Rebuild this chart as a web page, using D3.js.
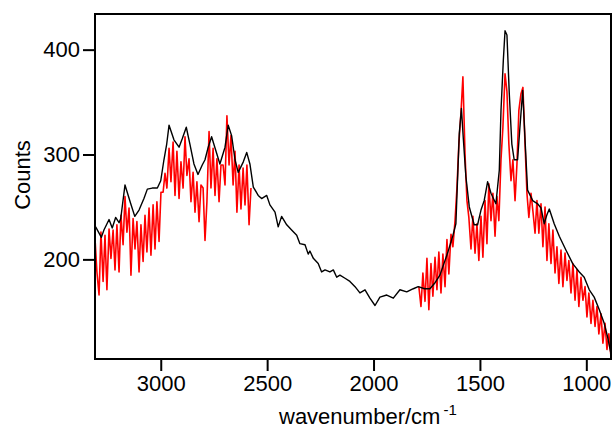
<!DOCTYPE html>
<html><head><meta charset="utf-8">
<script src="https://cdn.jsdelivr.net/npm/d3@7"></script>
<style>body{margin:0;background:#fff}text{font-family:"Liberation Sans",Arial,sans-serif}</style>
</head><body><svg id="c" width="613" height="428"></svg>
<script>
const blackWn=[3306,3279,3267,3243,3228,3212,3196,3188,3168,3141,3122,3102,3079,3063,3040,3016,3000,2985,2972,2961,2938,2914,2899,2880,2863,2844,2825,2805,2792,2777,2761,2737,2722,2698,2683,2667,2651,2636,2612,2596,2581,2565,2542,2526,2502,2487,2463,2448,2432,2408,2385,2361,2346,2322,2307,2299,2283,2260,2244,2228,2205,2189,2173,2158,2134,2111,2087,2064,2040,2017,1993,1970,1938,1907,1876,1844,1813,1790,1760,1735,1710,1688,1652,1628,1613,1597,1587,1578,1566,1550,1527,1511,1495,1480,1464,1448,1425,1409,1401,1390,1382,1373,1362,1350,1339,1323,1312,1299,1287,1276,1252,1229,1213,1198,1186,1174,1151,1127,1096,1064,1033,1010,986,963,939,916,900,884];
const blackCounts=[231,221,228,238,230,240,235,239,271,253,241,247,258,267,268,268,275,295,310,328,314,307,315,326,310,291,281,290,295,307,317,301,291,307,328,318,295,283,293,302,291,269,261,258,261,252,245,231,241,233,228,223,215,214,205,208,201,196,188,190,188,190,183,185,182,179,174,168,171,163,156,164,166,163,171,169,172,174,172,172,178,185,206,222,234,320,344,315,279,250,233,233,247,256,274,263,253,285,342,390,418,414,358,310,295,295,326,361,310,266,256,253,249,234,242,248,234,222,209,196,188,183,171,164,152,139,126,110];

const redLeftWn=[3309,3300,3290,3281,3271,3262,3253,3243,3234,3224,3215,3206,3196,3187,3177,3168,3159,3149,3140,3130,3121,3112,3102,3093,3083,3074,3065,3055,3046,3036,3027,3018,3008,2999,2989,2980,2971,2961,2952,2942,2933,2924,2914,2905,2895,2886,2877,2867,2858,2848,2839,2830,2820,2811,2801,2792,2783,2773,2764,2754,2745,2736,2726,2717,2707,2698,2689,2679,2670,2660,2651,2642,2632,2623,2613,2604,2595,2585,2576];
const redLeftCounts=[220,188,166,226,179,223,171,229,201,228,190,233,188,242,214,260,226,249,185,239,210,236,188,233,198,242,207,249,204,252,210,255,217,264,264,282,268,306,274,312,261,303,258,293,268,317,280,296,255,283,245,274,236,271,268,218,255,322,268,306,261,296,255,290,290,271,337,290,318,271,303,245,290,248,287,252,290,233,268];

const redRightWn=[1787,1777,1768,1758,1749,1740,1730,1721,1711,1702,1693,1683,1674,1664,1655,1646,1636,1627,1617,1608,1599,1589,1580,1570,1561,1552,1542,1533,1523,1514,1505,1495,1486,1476,1467,1458,1448,1439,1429,1420,1411,1401,1392,1382,1373,1364,1354,1345,1335,1326,1317,1307,1298,1288,1279,1270,1260,1251,1241,1232,1223,1213,1204,1194,1185,1176,1166,1157,1147,1138,1129,1119,1110,1100,1091,1082,1072,1063,1053,1044,1035,1025,1016,1006,997,988,978,969,959,950,941,931,922,912,903,894,884];
const redRightCounts=[174,155,187,160,201,152,196,165,202,171,207,168,205,174,219,186,224,212,237,268,310,340,374,300,256,240,210,241,206,234,199,241,202,256,215,272,237,263,222,260,237,295,326,377,360,310,275,295,256,291,342,358,364,310,263,240,263,246,225,256,225,253,212,250,199,234,196,228,187,212,177,209,174,206,180,199,168,196,161,190,155,183,161,174,145,168,139,161,136,155,129,148,120,139,114,129,107];

const xTicks=[3000,2500,2000,1500,1000];
const yTicks=[200,300,400];

const L=95,T=14,R=611,B=359;
const svg=d3.select("#c");
svg.append("rect").attr("width",613).attr("height",428).attr("fill","#fff");
const x=d3.scaleLinear().domain([3309,884]).range([L,R]);
const y=d3.scaleLinear().domain([105,434]).range([B,T]);

svg.append("defs").append("clipPath").attr("id","clip").append("rect")
  .attr("x",L).attr("y",T).attr("width",R-L).attr("height",B-T);

const line=d3.line().x(d=>x(d[0])).y(d=>y(d[1]));
const g=svg.append("g").attr("clip-path","url(#clip)");
g.append("path").datum(redLeftWn.map((w,i)=>[w,redLeftCounts[i]]))
  .attr("d",line).attr("fill","none").attr("stroke","#ff0000").attr("stroke-width",1.6).attr("stroke-linejoin","round");
g.append("path").datum(redRightWn.map((w,i)=>[w,redRightCounts[i]]))
  .attr("d",line).attr("fill","none").attr("stroke","#ff0000").attr("stroke-width",1.6).attr("stroke-linejoin","round");
g.append("path").datum(blackWn.map((w,i)=>[w,blackCounts[i]]))
  .attr("d",line).attr("fill","none").attr("stroke","#000").attr("stroke-width",1.4).attr("stroke-linejoin","round");

const ax=svg.append("g").attr("transform",`translate(0,${B})`)
  .call(d3.axisBottom(x).tickValues(xTicks).tickSize(12).tickPadding(4).tickFormat(d3.format("d")));
const ay=svg.append("g").attr("transform",`translate(${L},0)`)
  .call(d3.axisLeft(y).tickValues(yTicks).tickSize(12).tickPadding(3).tickFormat(d3.format("d")));
[ax,ay].forEach(a=>{
  a.select(".domain").remove();
  a.selectAll(".tick line").attr("stroke","#000").attr("stroke-width",2);
  a.selectAll(".tick text").attr("fill","#000").style("font-size","22px").style("font-family","'Liberation Sans',Arial,sans-serif");
});

svg.append("rect").attr("x",L).attr("y",T).attr("width",R-L).attr("height",B-T)
  .attr("fill","none").attr("stroke","#000").attr("stroke-width",2);

svg.append("text").attr("transform","translate(30,175) rotate(-90)").attr("text-anchor","middle")
  .style("font-size","22px").attr("fill","#000").text("Counts");
const xl=svg.append("text").attr("x",279).attr("y",424).style("font-size","22px").attr("fill","#000");
xl.append("tspan").text("wavenumber/cm");
xl.append("tspan").attr("dx",3).attr("dy",-9).style("font-size","15px").text("-1");
</script></body></html>
